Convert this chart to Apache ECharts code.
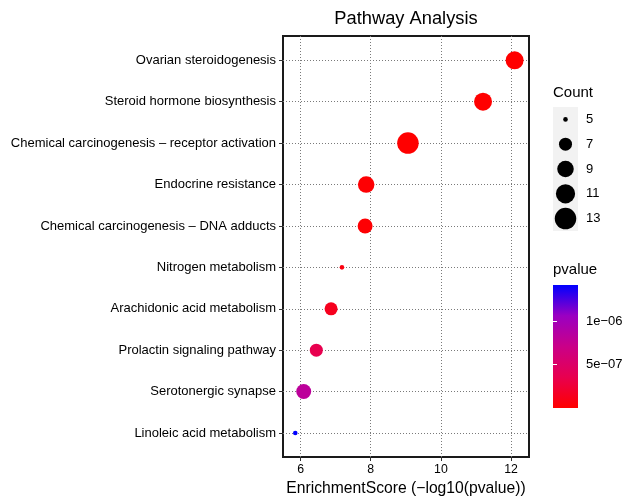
<!DOCTYPE html>
<html><head><meta charset="utf-8">
<script src="https://cdn.jsdelivr.net/npm/echarts@6/dist/echarts.min.js"></script>
<style>html,body{margin:0;padding:0;background:#fff}#c{width:622px;height:496px}</style>
</head><body><div id="c"></div>
<script>
const pathways = ['Ovarian steroidogenesis','Steroid hormone biosynthesis','Chemical carcinogenesis – receptor activation','Endocrine resistance','Chemical carcinogenesis – DNA adducts','Nitrogen metabolism','Arachidonic acid metabolism','Prolactin signaling pathway','Serotonergic synapse','Linoleic acid metabolism'];
const enrichmentScore = [12.10, 11.20, 9.06, 7.87, 7.84, 7.18, 6.87, 6.45, 6.09, 5.85];
const counts = [10, 10, 13, 9, 8, 5, 7, 7, 8, 5];
const xTicks = [6, 8, 10, 12];
const countBreaks = [5, 7, 9, 11, 13];
const pvalueBreaks = [5e-7, 1e-6];
const pvalueBreakLabels = ['5e−07', '1e−06'];
const titleText = 'Pathway Analysis';
const xTitle = 'EnrichmentScore (−log10(pvalue))';
const rampColors = ['#FF0000', '#E8004F', '#CA0088', '#9A00C2', '#0000FF'];

const pvalues = enrichmentScore.map(s => Math.pow(10, -s));
const pMin = Math.min(...pvalues), pMax = Math.max(...pvalues);
const cMin = Math.min(...counts), cMax = Math.max(...countBreaks);
const sizeOf = c => 4.6 + 16.9 * Math.sqrt((c - cMin) / (cMax - cMin));
const FONT = '"Liberation Sans", Arial, Helvetica, sans-serif';
const X_MIN = 5.5, X_MAX = 12.51;
const dotted = { color: '#7a7a7a', width: 1, type: [1, 2] };

const barGradient = new echarts.graphic.LinearGradient(0, 1, 0, 0,
  rampColors.map((c, i) => ({ offset: i / (rampColors.length - 1), color: c })));

const chart = echarts.init(document.getElementById('c'), null, { renderer: 'canvas' });
chart.setOption({
  animation: false,
  textStyle: { fontFamily: FONT },
  graphic: [
    { type: 'text', x: 406, y: 19, style: { text: titleText, align: 'center', verticalAlign: 'middle', font: '18.3px ' + FONT, fill: '#000' } },
    { type: 'text', x: 553, y: 93, style: { text: 'Count', align: 'left', verticalAlign: 'middle', font: '15px ' + FONT, fill: '#000' } },
    { type: 'text', x: 553, y: 270, style: { text: 'pvalue', align: 'left', verticalAlign: 'middle', font: '15px ' + FONT, fill: '#000' } }
  ],
  grid: [
    { left: 283, right: 93, top: 60.3, bottom: 63, show: false, outerBoundsMode: 'none' },
    { left: 283, right: 93, top: 36, bottom: 39, show: true, borderColor: '#1a1a1a', borderWidth: 2, backgroundColor: 'rgba(0,0,0,0)', outerBoundsMode: 'none' },
    { left: 553, top: 107, width: 25, height: 124, show: true, backgroundColor: '#F2F2F2', borderWidth: 0, outerBoundsMode: 'none' },
    { left: 553, top: 285, width: 25, height: 123, show: true, backgroundColor: barGradient, borderWidth: 0, outerBoundsMode: 'none' }
  ],
  xAxis: [
    { gridIndex: 0, type: 'value', min: X_MIN, max: X_MAX, show: false },
    { gridIndex: 1, type: 'value', min: X_MIN, max: X_MAX,
      axisLine: { show: false },
      axisTick: { show: true, length: 4, customValues: xTicks, lineStyle: { color: '#333', width: 1 } },
      axisLabel: { customValues: xTicks, fontSize: 12.3, color: '#000', margin: 7, fontFamily: FONT },
      splitLine: { show: true, lineStyle: dotted },
      name: xTitle, nameLocation: 'middle', nameGap: 23,
      nameTextStyle: { fontSize: 15.7, color: '#000', fontFamily: FONT } },
    { gridIndex: 2, type: 'value', min: -1, max: 1, show: false },
    { gridIndex: 3, type: 'value', min: 0, max: 1, show: false }
  ],
  yAxis: [
    { gridIndex: 0, type: 'category', data: pathways, inverse: true, boundaryGap: false,
      axisLine: { show: false },
      axisTick: { show: true, length: 4, lineStyle: { color: '#333', width: 1 } },
      axisLabel: { interval: 0, fontSize: 13, color: '#000', margin: 7, fontFamily: FONT },
      splitLine: { show: true, lineStyle: dotted } },
    { gridIndex: 1, type: 'value', min: 0, max: 1, show: false },
    { gridIndex: 2, type: 'category', data: countBreaks.map(String), inverse: true, boundaryGap: true, position: 'right',
      axisLine: { show: false }, axisTick: { show: false }, splitLine: { show: false },
      axisLabel: { fontSize: 13, color: '#000', margin: 8, fontFamily: FONT } },
    { gridIndex: 3, type: 'value', min: pMin, max: pMax, position: 'right', z: 10,
      axisLine: { show: false }, splitLine: { show: false },
      axisTick: { show: true, inside: true, length: 4, customValues: pvalueBreaks, lineStyle: { color: '#fff', width: 1 } },
      axisLabel: { customValues: pvalueBreaks, fontSize: 13, color: '#000', margin: 8, fontFamily: FONT,
        formatter: v => { const i = pvalueBreaks.findIndex(b => Math.abs(b - v) < 1e-12); return i >= 0 ? pvalueBreakLabels[i] : ''; } } },
    { gridIndex: 3, type: 'value', min: pMin, max: pMax, position: 'left', z: 10,
      axisLine: { show: false }, splitLine: { show: false }, axisLabel: { show: false },
      axisTick: { show: true, inside: true, length: 4, customValues: pvalueBreaks, lineStyle: { color: '#fff', width: 1 } } }
  ],
  visualMap: {
    show: false, type: 'continuous', seriesIndex: 0, dimension: 3, min: pMin, max: pMax,
    inRange: { color: rampColors }
  },
  series: [
    { type: 'scatter', xAxisIndex: 0, yAxisIndex: 0, z: 3,
      data: pathways.map((p, i) => [enrichmentScore[i], p, counts[i], pvalues[i]]),
      encode: { x: 0, y: 1 },
      symbolSize: v => sizeOf(v[2]),
      itemStyle: { opacity: 1 } },
    { type: 'scatter', xAxisIndex: 2, yAxisIndex: 2,
      data: countBreaks.map(c => [0, String(c)]),
      symbolSize: v => sizeOf(+v[1]),
      itemStyle: { color: '#000', opacity: 1 } }
  ]
});
</script></body></html>
